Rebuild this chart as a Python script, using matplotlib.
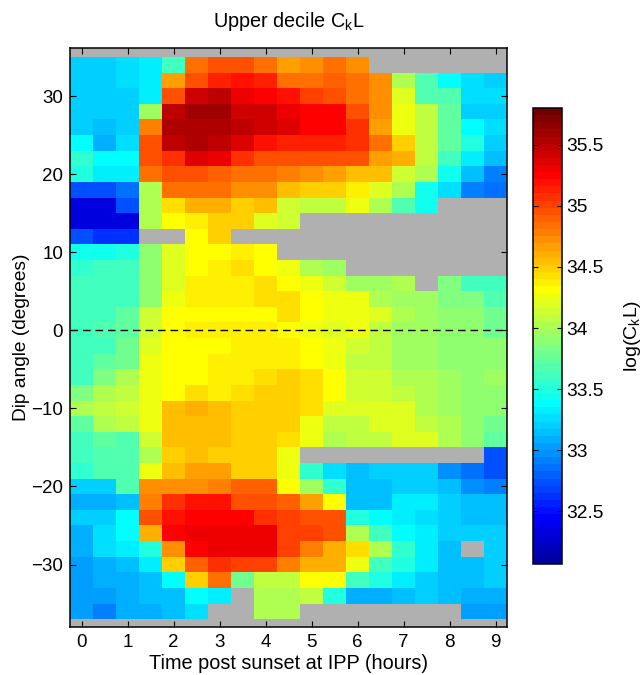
import numpy as np
import matplotlib
matplotlib.use("Agg")
import matplotlib.pyplot as plt
from matplotlib.colors import ListedColormap

plt.rcParams['font.family'] = ['Liberation Sans', 'DejaVu Sans']
plt.rcParams['mathtext.fontset'] = 'custom'
plt.rcParams['mathtext.rm'] = 'Liberation Sans'
plt.rcParams['mathtext.default'] = 'rm'

n = np.nan
hours = [0, .5, 1, 1.5, 2, 2.5, 3, 3.5, 4, 4.5, 5, 5.5, 6, 6.5, 7, 7.5, 8, 8.5, 9]
dip = list(range(36, -40, -2))
x_ticks = list(range(0, 10))
y_ticks = [-30, -20, -10, 0, 10, 20, 30]
cbar_ticks = [32.5, 33, 33.5, 34, 34.5, 35, 35.5]
cbar_labels = ['32.5', '33', '33.5', '34', '34.5', '35', '35.5']
vmin, vmax = 32.07, 35.8
# the cell readings below were taken against an ideal jet ramp; the colour bar itself reads this much lower
reading_offset = 0.08

r36 = [n]*19
r34 = [33.30,33.30,33.33,33.41,33.70,34.92,35.04,35.04,34.89,34.75,34.81,34.92,34.81,n,n,n,n,n,n]
r32 = [33.30,33.30,33.33,33.41,34.75,35.04,35.22,35.27,35.22,34.92,34.92,34.98,34.92,34.81,34.11,33.76,33.47,33.36,33.30]
r30 = [33.27,33.27,33.27,33.38,35.04,35.51,35.54,35.39,35.33,35.27,35.10,35.04,34.92,34.81,34.29,33.76,33.76,33.33,33.36]
r28 = [33.27,33.27,33.27,34.05,35.54,35.65,35.65,35.51,35.48,35.39,35.33,35.33,35.01,34.81,34.34,34.17,33.82,33.30,33.27]
r26 = [33.27,33.21,33.27,34.87,35.60,35.60,35.60,35.54,35.48,35.42,35.33,35.33,35.13,34.75,34.34,34.17,33.82,33.47,33.36]
r24 = [33.47,33.15,33.36,35.04,35.54,35.60,35.54,35.45,35.27,35.22,35.22,35.22,35.13,34.92,34.58,34.17,33.82,33.58,33.30]
r22 = [33.64,33.47,33.47,35.04,35.16,35.45,35.39,35.16,35.01,35.04,35.04,35.04,35.04,34.75,34.69,34.17,33.70,33.41,33.21]
r20 = [33.58,33.41,33.41,34.92,35.01,35.01,34.95,34.92,34.89,34.87,34.81,34.75,34.63,34.63,34.23,34.11,33.52,33.21,33.00]
r18 = [32.81,32.81,32.91,34.11,34.92,34.92,34.92,34.81,34.81,34.63,34.55,34.58,34.46,34.29,34.11,33.52,33.33,33.00,32.91]
r16 = [32.41,32.41,32.81,34.11,34.52,34.69,34.69,34.58,34.60,34.23,34.17,34.17,34.32,34.08,33.76,33.52,n,n,n]
r14 = [32.41,32.41,32.41,34.11,34.40,34.46,34.55,34.55,34.29,34.23,n,n,n,n,n,n,n,n,n]
r12 = [32.81,32.72,32.72,n,n,34.40,34.55,n,n,n,n,n,n,n,n,n,n,n,n]
r10 = [33.52,33.52,33.58,33.99,34.29,34.40,34.40,34.46,34.40,n,n,n,n,n,n,n,n,n,n]
r08 = [33.64,33.70,33.70,33.99,34.29,34.40,34.46,34.52,34.40,34.34,34.11,34.05,n,n,n,n,n,n,n]
r06 = [33.70,33.70,33.70,33.99,34.29,34.46,34.46,34.46,34.52,34.40,34.34,34.23,34.05,34.05,34.11,n,33.93,33.70,33.70]
r04 = [33.70,33.70,33.70,33.99,34.34,34.46,34.46,34.46,34.52,34.49,34.40,34.34,34.34,34.11,34.05,34.05,33.93,33.93,33.76]
r02 = [33.70,33.70,33.82,34.23,34.40,34.40,34.40,34.40,34.40,34.49,34.40,34.34,34.34,34.29,34.11,34.05,33.99,33.99,33.88]
r00 = [33.70,33.76,33.82,34.23,34.40,34.46,34.46,34.46,34.46,34.40,34.34,34.29,34.32,34.17,34.05,34.05,33.99,33.99,33.88]
m02 = [33.70,33.70,33.88,34.29,34.40,34.40,34.40,34.46,34.46,34.46,34.40,34.34,34.23,34.14,34.05,34.02,33.99,33.99,33.99]
m04 = [33.70,33.82,33.88,34.34,34.40,34.40,34.46,34.46,34.46,34.46,34.40,34.34,34.17,34.17,34.05,34.02,33.99,33.99,33.99]
m06 = [33.70,33.93,34.11,34.34,34.40,34.40,34.46,34.46,34.52,34.55,34.52,34.40,34.23,34.23,34.11,34.11,34.05,33.99,34.05]
m08 = [33.93,34.08,34.14,34.32,34.40,34.49,34.46,34.52,34.58,34.58,34.52,34.40,34.23,34.23,34.17,34.11,34.05,33.99,33.99]
m10 = [34.08,34.17,34.23,34.32,34.63,34.66,34.60,34.58,34.58,34.58,34.52,34.29,34.26,34.26,34.26,34.08,34.05,33.99,33.99]
m12 = [33.82,34.08,34.17,34.32,34.63,34.63,34.63,34.58,34.58,34.58,34.32,34.17,34.17,34.26,34.26,34.17,34.11,33.99,33.88]
m14 = [33.70,33.82,33.76,34.23,34.63,34.63,34.63,34.58,34.55,34.52,34.32,34.08,34.17,34.17,34.26,34.26,34.11,33.99,33.82]
m16 = [33.70,33.76,33.76,34.08,34.58,34.63,34.58,34.58,34.55,34.34,n,n,n,n,n,n,n,n,32.84]
m18 = [33.64,33.76,33.76,34.34,34.63,34.75,34.75,34.58,34.55,34.34,33.64,33.36,33.24,33.30,33.30,33.30,33.06,32.94,32.84]
m20 = [33.27,33.27,33.76,34.81,34.81,34.81,34.84,34.98,34.98,34.40,34.05,33.64,33.24,33.24,33.30,33.30,33.24,33.06,33.00]
m22 = [33.15,33.15,33.24,34.87,35.16,35.27,35.27,35.04,35.04,34.98,34.75,34.40,33.24,33.24,33.41,33.41,33.30,33.24,33.24]
m24 = [33.30,33.30,33.47,35.04,35.27,35.33,35.33,35.33,35.13,35.10,35.04,35.04,33.58,33.47,33.41,33.36,33.30,33.24,33.24]
m26 = [33.15,33.33,33.47,34.69,35.33,35.39,35.39,35.39,35.39,35.10,35.10,35.04,34.11,33.70,33.47,33.41,33.30,33.30,33.30]
m28 = [33.15,33.33,33.38,33.58,34.81,35.33,35.39,35.39,35.39,35.10,34.84,34.69,34.52,34.11,33.64,33.41,33.24,n,33.30]
m30 = [33.09,33.15,33.21,33.41,34.58,34.98,35.16,35.10,35.10,34.84,34.69,34.69,34.34,33.70,33.58,33.41,33.24,33.24,33.30]
m32 = [33.09,33.15,33.15,33.21,33.47,34.58,34.92,33.88,34.17,34.17,34.40,34.40,33.70,33.58,33.41,33.30,33.24,33.24,33.27]
m34 = [33.09,33.09,33.15,33.21,33.24,33.47,33.38,n,34.11,34.11,34.17,33.58,33.15,33.15,33.21,33.30,33.24,33.15,33.18]
m36 = [33.09,33.00,33.15,33.15,33.24,33.33,n,n,34.11,34.11,n,n,n,n,n,n,n,33.12,33.12]
m38 = [n]*19

grid = np.array([r36, r34, r32, r30, r28, r26, r24, r22, r20, r18, r16, r14, r12, r10, r08, r06,
                 r04, r02, r00, m02, m04, m06, m08, m10, m12, m14, m16, m18, m20, m22, m24, m26,
                 m28, m30, m32, m34, m36, m38]) - reading_offset


def matlab_jet(m=64):
    k = m // 4
    u = np.r_[np.arange(1, k + 1) / k, np.ones(k - 1), np.arange(k, 0, -1) / k]
    g0 = int(np.ceil(k / 2)) - (1 if m % 4 == 1 else 0)
    # positions (0-based) of the three ramps inside the table
    g_idx = np.arange(len(u)) + g0 - 1
    r_idx = g_idx + k
    b_idx = g_idx - k
    rgb = np.zeros((m, 3))
    for c, idx in enumerate((r_idx, g_idx, b_idx)):
        keep = (idx >= 0) & (idx < m)
        rgb[idx[keep], c] = u[keep]
    return rgb


W, H = 644, 675
fig = plt.figure(figsize=(W/100, H/100), dpi=100)
ax = fig.add_axes([70/W, 1-627/H, (507-70)/W, (627-48)/H])

jet64 = ListedColormap(matlab_jet(64), name='jet64')
jet64.set_bad('#b0b0b0')

mesh = ax.pcolormesh(hours, dip, np.ma.masked_invalid(grid), cmap=jet64, vmin=vmin, vmax=vmax,
                     shading='nearest', linewidth=0, rasterized=True)
ax.axhline(0, color='black', lw=1, dashes=(5.5, 3.5))
ax.set_xlim(-0.25, 9.25)
ax.set_ylim(-38, 36.15)
ax.set_xticks(x_ticks)
ax.set_yticks(y_ticks)
ax.tick_params(direction='in', top=True, right=True, length=4, width=0.8, labelsize=13.5, pad=5)
for s in ax.spines.values():
    s.set_linewidth(1.1)
ax.set_xlabel('Time post sunset at IPP (hours)', fontsize=14.3, labelpad=2)
ax.set_ylabel('Dip angle (degrees)', fontsize=13.8, labelpad=1)
ax.set_title(r'Upper decile C$_{\mathrm{k}}$L', fontsize=14.3, pad=15)

cax = fig.add_axes([533/W, 1-564/H, (562-533)/W, (564-108)/H])
cb = fig.colorbar(mesh, cax=cax)
cb.set_ticks(cbar_ticks)
cb.set_ticklabels(cbar_labels)
cax.tick_params(direction='in', left=True, right=True, length=3.5, width=0.8, labelsize=13.8, pad=3)
cb.outline.set_linewidth(1.1)
cb.set_label(r'log(C$_{\mathrm{k}}$L)', fontsize=14, labelpad=13)

fig.savefig('out.png', dpi=100)
